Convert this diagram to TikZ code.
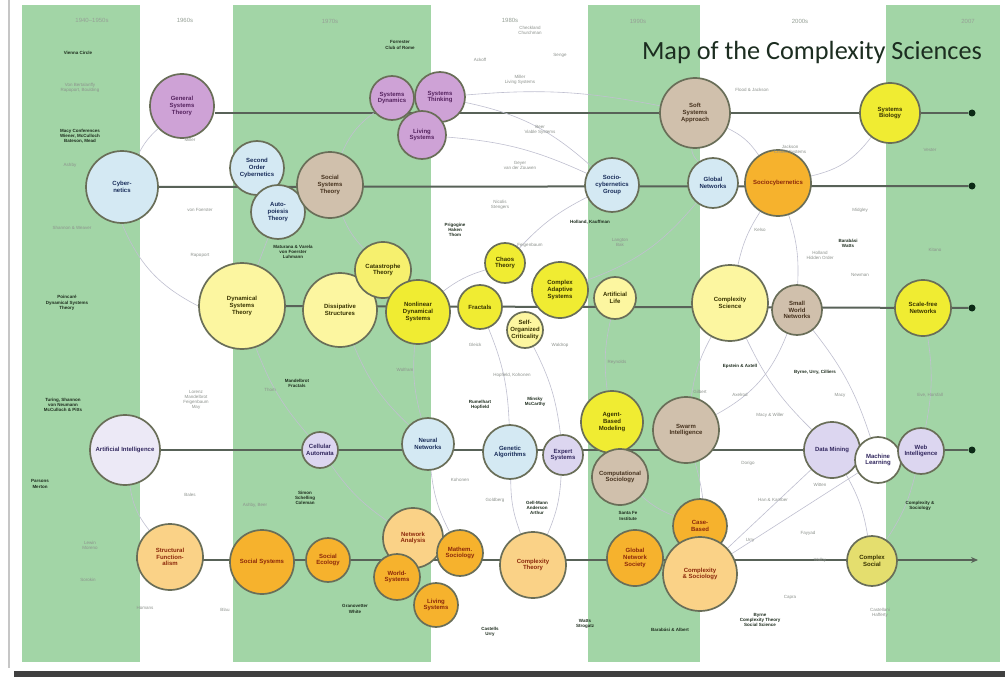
\documentclass[tikz,border=0pt]{standalone}
\usepackage{fontspec}
\usepackage{graphicx}
\setmainfont{Liberation Sans}
\newfontfamily\titlefont{Carlito}
\usetikzlibrary{arrows.meta}
\pgfdeclarelayer{bands}
\pgfdeclarelayer{links}
\pgfsetlayers{bands,links,main}
\definecolor{bandgreen}{RGB}{162,213,166}
\definecolor{purplec}{RGB}{206,162,214}
\definecolor{purpletext}{RGB}{85,35,95}
\definecolor{bluec}{RGB}{212,233,243}
\definecolor{bluetext}{RGB}{25,45,90}
\definecolor{tanc}{RGB}{208,192,172}
\definecolor{tantext}{RGB}{70,50,30}
\definecolor{yellowb}{RGB}{240,236,50}
\definecolor{yellowm}{RGB}{246,240,110}
\definecolor{yellowp}{RGB}{252,246,160}
\definecolor{yellowtext}{RGB}{55,50,0}
\definecolor{orangeb}{RGB}{246,178,45}
\definecolor{orangep}{RGB}{250,210,135}
\definecolor{orangetext}{RGB}{140,40,10}
\definecolor{lavc}{RGB}{220,214,240}
\definecolor{lavpale}{RGB}{236,233,246}
\definecolor{lavtext}{RGB}{50,40,95}
\definecolor{olivec}{RGB}{228,222,110}
\definecolor{ringc}{RGB}{105,110,88}
\definecolor{linec}{RGB}{88,98,88}
\definecolor{dotc}{RGB}{12,42,22}
\definecolor{namegray}{RGB}{140,145,140}
\definecolor{darktext}{RGB}{30,45,30}
\definecolor{linkc}{RGB}{192,192,208}
\definecolor{titlec}{RGB}{28,45,32}
\definecolor{headc}{RGB}{150,160,150}
\tikzset{
  band/.style={fill=bandgreen},
  bub/.style={circle, draw=ringc, line width=1.7pt, inner sep=0pt, align=center,
    font=\fontsize{6}{6.6}\selectfont\bfseries},
  purp/.style={bub, fill=purplec, text=purpletext},
  blu/.style={bub, fill=bluec, text=bluetext},
  tan/.style={bub, fill=tanc, text=tantext},
  yelb/.style={bub, fill=yellowb, text=yellowtext},
  yelm/.style={bub, fill=yellowm, text=yellowtext},
  yelp/.style={bub, fill=yellowp, text=yellowtext},
  orab/.style={bub, fill=orangeb, text=orangetext},
  orap/.style={bub, fill=orangep, text=orangetext},
  lav/.style={bub, fill=lavc, text=lavtext},
  lavw/.style={bub, fill=lavpale, text=lavtext},
  whb/.style={bub, fill=white, text=lavtext},
  oli/.style={bub, fill=olivec, text=yellowtext},
  rowline/.style={draw=linec, line width=2pt},
  enddot/.style={circle, fill=dotc, minimum size=7pt, inner sep=0pt},
  link/.style={draw=linkc, line width=0.6pt},
  nm/.style={font=\fontsize{4.5}{5}\selectfont, text=namegray, align=center, inner sep=1pt},
  nmd/.style={font=\fontsize{4.5}{5.2}\selectfont\bfseries, text=darktext, align=center, inner sep=1pt},
  head/.style={font=\fontsize{6}{7}\selectfont, text=headc},
}
\begin{document}
\begin{tikzpicture}[x=1pt,y=-1pt]
\useasboundingbox (0,0) rectangle (1005,677);
\begin{pgfonlayer}{bands}
  \fill[white] (0,0) rectangle (1005,677);
  \fill[band] (22,5) rectangle (140,662);
  \fill[band] (233,5) rectangle (431,662);
  \fill[band] (588,5) rectangle (700,662);
  \fill[band] (886,5) rectangle (1000,662);
  \draw[gray!45, line width=2pt] (9,0) -- (9,668);
  \fill[black!75] (14,671) rectangle (1005,677);
\end{pgfonlayer}

% era headers
\node[head] (h1) at (92,20) {1940--1950s};
\node[head] (h2) at (185,20) {1960s};
\node[head] (h3) at (330,21) {1970s};
\node[head] (h4) at (510,20) {1980s};
\node[head] (h5) at (638,21) {1990s};
\node[head] (h6) at (800,21) {2000s};
\node[head] (h7) at (968,21) {2007};

% title
\node[font=\titlefont, text=titlec, inner sep=0pt, anchor=base] (title) at (812,60)
  {\resizebox{340pt}{!}{Map of the Complexity Sciences}};

% ---------- Row 1 : systems science
\node[purp, minimum size=64pt] (r1a) at (182,106) {General\\Systems\\Theory};
\node[purp, minimum size=44pt] (r1b) at (392,98) {Systems\\Dynamics};
\node[purp, minimum size=50pt] (r1c) at (440,97) {Systems\\Thinking};
\node[purp, minimum size=48pt] (r1d) at (422,135) {Living\\Systems};
\node[tan, minimum size=70pt] (r1e) at (695,113) {Soft\\Systems\\Approach};
\node[yelb, minimum size=60pt] (r1f) at (890,113) {Systems\\Biology};
\node[enddot] (d1) at (972,113) {};

% ---------- Row 2 : cybernetics
\node[blu, minimum size=72pt] (r2a) at (122,187) {Cyber-\\netics};
\node[blu, minimum size=54pt] (r2b) at (257,168) {Second\\Order\\Cybernetics};
\node[blu, minimum size=54pt] (r2c) at (278,212) {Auto-\\poiesis\\Theory};
\node[tan, minimum size=66pt] (r2d) at (330,185) {Social\\Systems\\Theory};
\node[blu, minimum size=54pt] (r2e) at (612,185) {Socio-\\cybernetics\\Group};
\node[blu, minimum size=50pt] (r2f) at (713,183) {Global\\Networks};
\node[orab, minimum size=66pt] (r2g) at (778,183) {Sociocybernetics};
\node[enddot] (d2) at (972,186) {};

% ---------- Row 3 : complexity science
\node[yelp, minimum size=86pt] (r3a) at (242,306) {Dynamical\\Systems\\Theory};
\node[yelp, minimum size=74pt] (r3b) at (340,310) {Dissipative\\Structures};
\node[yelm, minimum size=56pt] (r3c) at (383,270) {Catastrophe\\Theory};
\node[yelb, minimum size=64pt] (r3d) at (418,312) {Nonlinear\\Dynamical\\Systems};
\node[yelb, minimum size=40pt] (r3e) at (505,263) {Chaos\\Theory};
\node[yelb, minimum size=44pt] (r3f) at (480,307) {Fractals};
\node[yelp, minimum size=36pt] (r3g) at (525,330) {Self-\\Organized\\Criticality};
\node[yelb, minimum size=56pt] (r3h) at (560,290) {Complex\\Adaptive\\Systems};
\node[yelp, minimum size=42pt] (r3i) at (615,298) {Artificial\\Life};
\node[yelp, minimum size=76pt] (r3j) at (730,303) {Complexity\\Science};
\node[tan, minimum size=50pt] (r3k) at (797,310) {Small\\World\\Networks};
\node[yelb, minimum size=56pt] (r3l) at (923,308) {Scale-free\\Networks};
\node[enddot] (d3) at (972,308) {};

% ---------- Row 4 : computational modeling / AI
\node[lavw, minimum size=70pt] (r4a) at (125,450) {Artificial Intelligence};
\node[lav, minimum size=36pt] (r4b) at (320,450) {Cellular\\Automata};
\node[blu, minimum size=52pt] (r4c) at (428,444) {Neural\\Networks};
\node[blu, minimum size=54pt] (r4d) at (510,452) {Genetic\\Algorithms};
\node[lav, minimum size=40pt] (r4e) at (563,455) {Expert\\Systems};
\node[yelb, minimum size=62pt] (r4f) at (612,422) {Agent-\\Based\\Modeling};
\node[tan, minimum size=56pt] (r4g) at (620,477) {Computational\\Sociology};
\node[tan, minimum size=66pt] (r4h) at (686,430) {Swarm\\Intelligence};
\node[lav, minimum size=56pt] (r4i) at (832,450) {Data Mining};
\node[whb, minimum size=46pt] (r4j) at (878,460) {Machine\\Learning};
\node[lav, minimum size=46pt] (r4k) at (921,451) {Web\\Intelligence};
\node[enddot] (d4) at (972,450) {};

% ---------- Row 5 : sociology
\node[orap, minimum size=66pt] (r5a) at (170,557) {Structural\\Function-\\alism};
\node[orab, minimum size=64pt] (r5b) at (262,562) {Social Systems};
\node[orab, minimum size=44pt] (r5c) at (328,560) {Social\\Ecology};
\node[orap, minimum size=60pt] (r5d) at (413,538) {Network\\Analysis};
\node[orab, minimum size=46pt] (r5e) at (397,577) {World-\\Systems};
\node[orab, minimum size=46pt] (r5f) at (460,553) {Mathem.\\Sociology};
\node[orab, minimum size=44pt] (r5g) at (436,605) {Living\\Systems};
\node[orap, minimum size=66pt] (r5h) at (533,565) {Complexity\\Theory};
\node[orab, minimum size=56pt] (r5i) at (635,558) {Global\\Network\\Society};
\node[orab, minimum size=54pt] (r5j) at (700,526) {Case-\\Based};
\node[orap, minimum size=74pt] (r5k) at (700,574) {Complexity\\\& Sociology};
\node[oli, minimum size=50pt] (r5l) at (872,561) {Complex\\Social};
\coordinate (r5end) at (978,560);

% ---------- row lines and thin links
\begin{pgfonlayer}{links}
  \draw[rowline] (r1a.east |- d1) -- (d1);
  \draw[rowline] (r2a) -- (d2);
  \draw[rowline] (r3a) -- (d3);
  \draw[rowline] (r4a) -- (d4);
  \draw[rowline, -{Stealth[length=7pt,width=6pt]}] (r5a.west |- r5end) -- (r5end);
  \draw[link] (r2a) to[bend left=10] (r1a);
  \draw[link] (r2a.south) to[bend right=20] (r3a.west);
  \draw[link] (r2c) -- (r3a);
  \draw[link] (r2d) to[bend left=15] (r1b);
  \draw[link] (r1d) to[bend left=10] (r2e);
  \draw[link] (r1c) to[bend left=8] (r1e);
  \draw[link] (r2d) to[bend right=10] (r3c);
  \draw[link] (r3d) to[bend left=10] (r3e);
  \draw[link] (r3e) to[bend left=10] (r2e);
  \draw[link] (r3h) to[bend right=15] (r2f);
  \draw[link] (r3j) to[bend left=10] (r2g);
  \draw[link] (r2f) to[bend left=20] (r1e);
  \draw[link] (r3k) to[bend left=20] (r4h);
  \draw[link] (r4a) to[bend right=15] (r5a);
  \draw[link] (r4b) to[bend right=10] (r5d);
  \draw[link] (r4c) to[bend left=10] (r3d);
  \draw[link] (r4d) to[bend right=10] (r3f);
  \draw[link] (r4f) to[bend left=10] (r3i);
  \draw[link] (r4h) to[bend left=10] (r3j);
  \draw[link] (r4i) to[bend left=10] (r5l);
  \draw[link] (r4k) to[bend left=10] (r5l);
  \draw[link] (r4g) to[bend right=10] (r5j);
  \draw[link] (r4i) -- (r5k);
  \draw[link] (r4j) -- (r5k);
  \draw[link] (r5h) to[bend left=10] (r4d);
  \draw[link] (r3a) to[bend right=10] (r4b);
  \draw[link] (r1e) to[bend left=15] (r2g);
  \draw[link] (r1f) to[bend left=20] (r2g);
  \draw[link] (r3l) to[bend left=10] (r4k);
  \draw[link] (r3j) to[bend right=10] (r4i);
  \draw[link] (r1c) to[bend left=15] (r2e);
  \draw[link] (r3b) to[bend right=12] (r4c);
  \draw[link] (r3g) to[bend left=10] (r4e);
  \draw[link] (r4e) to[bend left=10] (r5h);
  \draw[link] (r3k) to[bend left=10] (r4j);
  \draw[link] (r2g) to[bend left=10] (r3k);
  \draw[link] (r4h) to[bend left=10] (r5k);
  \draw[link] (r4c) to[bend right=10] (r5f);
\end{pgfonlayer}

% ---------- small labels (people, events)
\node[nmd] (t1) at (78,53) {Vienna Circle};
\node[nm] (t2) at (80,88) {Von Bertalanffy\\Rapoport, Boulding};
\node[nmd] (t3) at (80,136) {Macy Conferences\\Wiener, McCulloch\\Bateson, Mead};
\node[nm] (t4) at (70,165) {Ashby};
\node[nm] (t5) at (72,228) {Shannon \& Weaver};
\node[nmd] (t6) at (67,303) {Poincar\'e\\Dynamical Systems\\Theory};
\node[nmd] (t7) at (63,405) {Turing, Shannon\\von Neumann\\McCulloch \& Pitts};
\node[nmd] (t8) at (40,484) {Parsons\\Merton};
\node[nm] (t9) at (90,545) {Lewin\\Moreno};
\node[nm] (t10) at (88,580) {Sorokin};
\node[nm] (t11) at (145,608) {Homans};
\node[nm] (t12) at (190,140) {Miller};
\node[nm] (t13) at (200,210) {von Foerster};
\node[nm] (t14) at (196,400) {Lorenz\\Mandelbrot\\Feigenbaum\\May};
\node[nmd] (t15) at (400,45) {Forrester\\Club of Rome};
\node[nmd] (t16) at (293,252) {Maturana \& Varela\\von Foerster\\Luhmann};
\node[nmd] (t17) at (297,383) {Mandelbrot\\Fractals};
\node[nm] (t18) at (255,505) {Ashby, Beer};
\node[nmd] (t19) at (305,498) {Simon\\Schelling\\Coleman};
\node[nm] (t20) at (225,610) {Blau};
\node[nmd] (t21) at (355,609) {Granovetter\\White};
\node[nm] (t22) at (530,30) {Checkland\\Churchman};
\node[nm] (t23) at (520,80) {Miller\\Living Systems};
\node[nm] (t24) at (540,130) {Beer\\Viable Systems};
\node[nm] (t25) at (520,165) {Geyer\\van der Zouwen};
\node[nmd] (t26) at (455,230) {Prigogine\\Haken\\Thom};
\node[nmd] (t27) at (590,222) {Holland, Kauffman};
\node[nm] (t28) at (620,242) {Langton\\Bak};
\node[nm] (t29) at (405,370) {Wolfram};
\node[nm] (t30) at (512,375) {Hopfield, Kohonen};
\node[nmd] (t31) at (480,405) {Rumelhart\\Hopfield};
\node[nmd] (t32) at (535,402) {Minsky\\McCarthy};
\node[nm] (t33) at (617,362) {Reynolds};
\node[nmd] (t34) at (537,508) {Gell-Mann\\Anderson\\Arthur};
\node[nmd] (t35) at (628,516) {Santa Fe\\Institute};
\node[nmd] (t36) at (490,632) {Castells\\Urry};
\node[nmd] (t37) at (585,624) {Watts\\Strogatz};
\node[nmd] (t38) at (670,630) {Barab\'asi \& Albert};
\node[nm] (t39) at (752,90) {Flood \& Jackson};
\node[nm] (t40) at (790,150) {Jackson\\Critical Systems};
\node[nm] (t41) at (860,210) {Midgley};
\node[nmd] (t42) at (848,243) {Barab\'asi\\Watts};
\node[nm] (t43) at (860,275) {Newman};
\node[nmd] (t44) at (740,366) {Epstein \& Axtell};
\node[nmd] (t45) at (815,372) {Byrne, Urry, Cilliers};
\node[nm] (t46) at (700,392) {Gilbert};
\node[nm] (t47) at (770,415) {Macy \& Willer};
\node[nm] (t48) at (748,463) {Dorigo};
\node[nm] (t49) at (773,500) {Han \& Kamber};
\node[nm] (t50) at (808,533) {Fayyad};
\node[nmd] (t51) at (920,506) {Complexity \&\\Sociology};
\node[nmd] (t52) at (760,620) {Byrne\\Complexity Theory\\Social Science};
\node[nm] (t53) at (790,597) {Capra};
\node[nm] (t54) at (880,613) {Castellani\\Hafferty};
\node[nm] (t55) at (930,395) {Eve, Horsfall};
\node[nm] (t56) at (935,250) {Kitano};
\node[nm] (t57) at (930,150) {Vester};
\node[nm] (t58) at (480,60) {Ackoff};
\node[nm] (t59) at (560,55) {Senge};
\node[nm] (t60) at (500,205) {Nicolis\\Stengers};
\node[nm] (t61) at (530,245) {Feigenbaum};
\node[nm] (t62) at (475,345) {Gleick};
\node[nm] (t63) at (560,345) {Waldrop};
\node[nm] (t64) at (460,480) {Kohonen};
\node[nm] (t65) at (495,500) {Goldberg};
\node[nm] (t66) at (760,230) {Kelso};
\node[nm] (t67) at (820,255) {Holland\\Hidden Order};
\node[nm] (t68) at (740,395) {Axelrod};
\node[nm] (t69) at (840,395) {Macy};
\node[nm] (t70) at (820,485) {Witten};
\node[nm] (t71) at (750,540) {Urry};
\node[nm] (t72) at (820,560) {Walby};
\node[nm] (t73) at (270,390) {Thom};
\node[nm] (t74) at (200,255) {Rapoport};
\node[nm] (t75) at (190,495) {Bales};
\end{tikzpicture}
\end{document}
